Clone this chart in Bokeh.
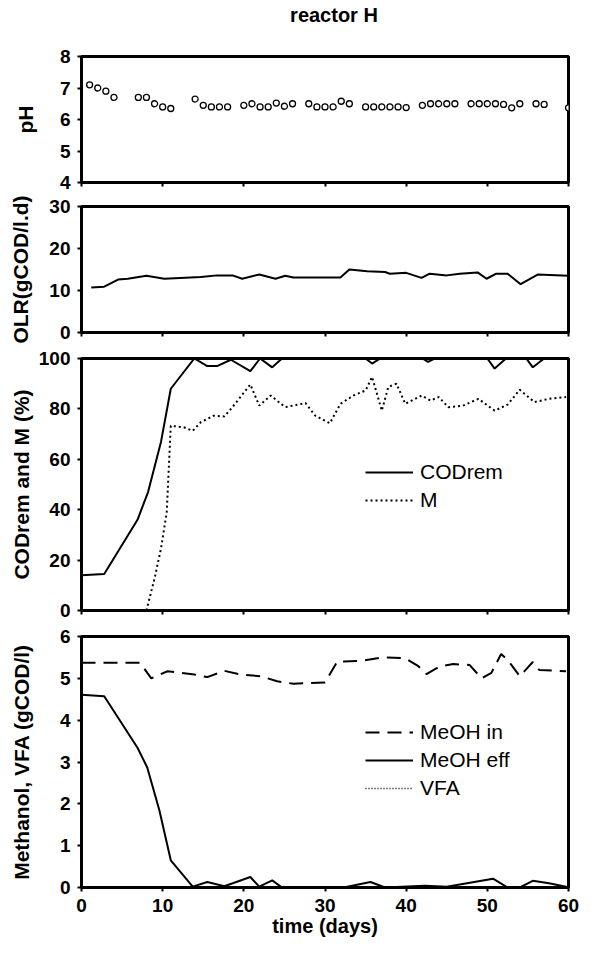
from bokeh.plotting import figure
from bokeh.models import Range1d, FixedTicker, Legend, LegendItem, Div
from bokeh.layouts import column
from bokeh.embed import file_html
from bokeh.resources import INLINE

# ---------------- data ----------------
title_text = "reactor H"
x_ticks = [0, 10, 20, 30, 40, 50, 60]

ph_days = [1, 2, 3, 4, 7, 8, 9, 10, 11, 14, 15, 16, 17, 18, 20, 21, 22, 23, 24, 25, 26,
           28, 29, 30, 31, 32, 33, 35, 36, 37, 38, 39, 40, 42, 43, 44, 45, 46, 48, 49,
           50, 51, 52, 53, 54, 56, 57, 60]
ph_vals = [7.1, 7.0, 6.9, 6.7, 6.7, 6.7, 6.5, 6.4, 6.35, 6.65, 6.45, 6.4, 6.4, 6.4, 6.45,
           6.5, 6.4, 6.4, 6.52, 6.42, 6.5, 6.5, 6.4, 6.4, 6.4, 6.58, 6.5, 6.4, 6.4, 6.4,
           6.4, 6.4, 6.38, 6.45, 6.5, 6.5, 6.5, 6.5, 6.5, 6.5, 6.5, 6.5, 6.48, 6.37, 6.5,
           6.5, 6.48, 6.37]

olr_days = [1.2, 2.8, 4.5, 5.7, 8.0, 10.2, 14.7, 16.7, 18.6, 19.8, 21.9, 23.9, 25.1, 26.1,
            31.9, 33.0, 35.2, 37.4, 38.0, 40.0, 41.9, 42.9, 45.0, 46.6, 48.8, 49.9, 51.1,
            52.5, 54.1, 56.2, 60.0]
olr_vals = [10.7, 10.9, 12.6, 12.8, 13.5, 12.8, 13.2, 13.6, 13.6, 12.8, 13.8, 12.8, 13.5,
            13.1, 13.1, 15.0, 14.6, 14.4, 14.0, 14.2, 13.0, 14.0, 13.6, 14.0, 14.3, 12.8,
            14.0, 14.0, 11.5, 13.8, 13.5]

cod_days = [0, 2.8, 6.9, 8.2, 9.8, 11.0, 13.9, 15.5, 16.7, 18.4, 20.8, 22.0, 23.5, 24.7,
            35.0, 35.8, 36.8, 42.0, 42.7, 43.5, 50.0, 50.9, 52.3, 54.8, 55.6, 57.0, 60]
cod_vals = [14, 14.5, 36, 47, 67, 88, 100, 97, 97, 99.5, 95, 100, 96.5, 100, 100, 98, 100,
            100, 98.7, 100, 100, 96, 100, 100, 96.5, 100, 100]

m_days = [8.0, 9.0, 9.8, 10.5, 11.0, 12.6, 13.7, 14.7, 16.3, 17.6, 18.6, 20.8, 21.9, 23.3,
          25.1, 27.6, 28.8, 30.6, 31.9, 33.5, 35.0, 35.8, 37.0, 37.8, 38.8, 39.9, 41.9,
          43.0, 44.0, 45.2, 47.0, 48.9, 50.9, 52.5, 54.0, 55.8, 57.6, 59.7]
m_vals = [0, 12.7, 24.7, 39, 73.3, 72.7, 71.3, 74.7, 77.3, 77, 80.7, 89.7, 81.3, 85.3, 80.7,
          82.3, 77.3, 74.3, 82, 85.3, 87.3, 92.7, 79.3, 88.7, 90, 82, 85.3, 83.3, 84.7,
          80.7, 81.3, 84, 79.3, 81.7, 87.6, 82.7, 84, 84.7]

in_days = [0, 7.2, 8.6, 10.6, 13.9, 15.5, 17.6, 19.6, 22.1, 24.1, 26.1, 28.2, 30.0, 31.5,
           34.5, 37.2, 39.9, 41.5, 42.5, 44.2, 45.8, 47.8, 49.3, 50.5, 51.7, 52.5, 54.0,
           55.6, 56.4, 59.7]
in_vals = [5.37, 5.37, 5.0, 5.17, 5.09, 5.03, 5.18, 5.09, 5.05, 4.93, 4.87, 4.89, 4.9, 5.4,
           5.42, 5.5, 5.48, 5.29, 5.1, 5.29, 5.34, 5.32, 5.0, 5.13, 5.58, 5.44, 5.05, 5.39,
           5.2, 5.17]

eff_days = [0, 2.8, 6.9, 8.1, 9.6, 11.0, 13.7, 15.5, 17.6, 20.8, 21.9, 23.5, 24.7, 32.3,
            35.6, 37.4, 42.3, 45.0, 50.7, 52.5, 54.0, 55.6, 57.6, 59.7]
eff_vals = [4.61, 4.57, 3.34, 2.87, 1.84, 0.65, 0.02, 0.13, 0.03, 0.25, 0.02, 0.17, 0.0,
            0.0, 0.13, 0.0, 0.04, 0.02, 0.21, 0.0, 0.0, 0.16, 0.1, 0.02]

vfa_days = [0, 10, 20, 30, 40, 50, 60]
vfa_vals = [0, 0, 0, 0, 0, 0, 0]

# ---------------- styling ----------------
FONT = "Liberation Sans"
W = 592
LEFT = 81
RIGHT = 24


def make(height, top, bottom, yr, yticks, ylabel, lab_standoff, show_x=False):
    p = figure(width=W, height=height, x_range=Range1d(0, 60), y_range=Range1d(*yr),
               output_backend="svg", toolbar_location=None,
               min_border_left=LEFT, min_border_right=RIGHT,
               min_border_top=top, min_border_bottom=bottom)
    p.xgrid.visible = False
    p.ygrid.visible = False
    p.outline_line_color = "black"
    p.outline_line_width = 3
    p.outline_line_alpha = 1
    for ax in (p.xaxis[0], p.yaxis[0]):
        ax.axis_line_color = None
        ax.major_tick_in = 0
        ax.major_tick_out = 4
        ax.major_tick_line_width = 2
        ax.minor_tick_line_color = None
        ax.major_label_text_font = FONT
        ax.major_label_text_font_style = "bold"
        ax.major_label_text_font_size = "19px"
        ax.major_label_text_color = "black"
        ax.axis_label_text_font = FONT
        ax.axis_label_text_font_style = "bold"
        ax.axis_label_text_font_size = "21px"
        ax.axis_label_text_color = "black"
    p.xaxis.ticker = FixedTicker(ticks=x_ticks)
    p.yaxis.ticker = FixedTicker(ticks=yticks)
    p.yaxis.axis_label = ylabel
    p.yaxis.major_label_standoff = 7
    p.yaxis.axis_label_standoff = lab_standoff
    if show_x:
        p.xaxis.axis_label = "time (days)"
        p.xaxis.axis_label_text_font_size = "20px"
        p.xaxis.major_label_standoff = 7
        p.xaxis.axis_label_standoff = 0
    else:
        p.xaxis.major_label_overrides = {t: "" for t in x_ticks}
        p.xaxis.major_label_text_font_size = "1px"
        p.xaxis.major_label_standoff = 0
    return p


def legend_for(p, items, loc):
    lg = Legend(items=items, location=loc, glyph_width=48, glyph_height=20,
                label_height=20, spacing=4, padding=0, margin=0, label_standoff=7,
                border_line_color=None, background_fill_alpha=0,
                label_text_font=FONT, label_text_font_size="21px",
                label_text_color="black")
    p.add_layout(lg)


# title
title = Div(text=title_text, width=W, height=30, margin=(0, 0, 0, 0),
            styles={"font-family": "Liberation Sans", "font-size": "20px",
                    "font-weight": "bold", "color": "black", "text-align": "center",
                    "line-height": "22px", "padding-top": "4px", "padding-left": "76px",
                    "box-sizing": "border-box"})

# panel 1: pH
p1 = make(164, 26, 12, (4, 8), [4, 5, 6, 7, 8], "pH", 20)
p1.scatter(ph_days, ph_vals, marker="circle", size=6, fill_color="white",
           line_color="black", line_width=1.3)

# panel 2: OLR
p2 = make(151, 12, 13, (0, 30), [0, 10, 20, 30], "OLR(gCOD/l.d)", 14)
p2.line(olr_days, olr_vals, line_color="black", line_width=2)

# panel 3: CODrem and M
p3 = make(277, 13, 12, (0, 100), [0, 20, 40, 60, 80, 100], "CODrem and M (%)", 3)
r_cod = p3.line(cod_days, cod_vals, line_color="black", line_width=2)
r_m = p3.line(m_days, m_vals, line_color="black", line_width=2, line_dash="2 3")
legend_for(p3, [LegendItem(label="CODrem", renderers=[r_cod]),
                LegendItem(label="M", renderers=[r_m])], (284, 98))

# panel 4: Methanol, VFA
p4 = make(331, 14, 66, (0, 6), [0, 1, 2, 3, 4, 5, 6], "Methanol, VFA (gCOD/l)", 24,
          show_x=True)
r_in = p4.line(in_days, in_vals, line_color="black", line_width=2, line_dash="14 8")
r_eff = p4.line(eff_days, eff_vals, line_color="black", line_width=2)
r_vfa = p4.line(vfa_days, vfa_vals, line_color="black", line_width=1.5, line_dash="1 2")
legend_for(p4, [LegendItem(label="MeOH in", renderers=[r_in]),
                LegendItem(label="MeOH eff", renderers=[r_eff]),
                LegendItem(label="VFA", renderers=[r_vfa])], (284, 87))

layout = column(title, p1, p2, p3, p4, spacing=0)
open("out.html", "w").write(file_html(layout, INLINE))
